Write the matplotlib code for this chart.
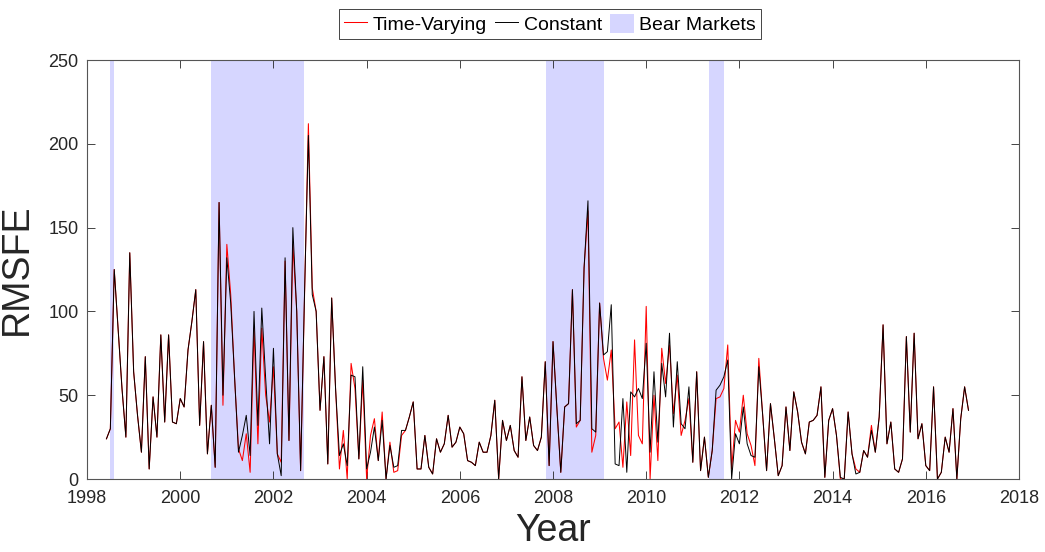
#!/usr/bin/env python3
"""
Gráfico do RMSFE mensal: modelo com parâmetros variantes no tempo vs constantes,
com períodos de bear market sombreados.
"""
import numpy as np
import matplotlib
matplotlib.use("Agg")
import matplotlib.pyplot as plt

# Primeiro mês da série (meses contados a partir de jan/1998)
START_YEAR = 1998
FIRST_MONTH = 5

# RMSFE do modelo constante (preto), um valor por mês de mai/1998 a dez/2016
CONSTANT = [
    24, 30, 125, 90, 54, 25, 135, 64, 38, 16, 73, 6, 49, 25, 86, 34, 86, 34, 33, 48,
    43, 77, 94, 113, 32, 82, 15, 44, 7, 165, 50, 132, 105, 60, 16, 26, 38, 14, 100, 32,
    102, 60, 21, 78, 15, 2, 132, 23, 150, 100, 5, 110, 205, 110, 100, 41, 73, 9, 108, 54,
    14, 21, 8, 62, 61, 12, 67, 6, 16, 31, 11, 35, 0, 20, 7, 8, 29, 29, 37, 46,
    6, 6, 26, 7, 3, 24, 16, 21, 38, 19, 22, 31, 27, 11, 10, 8, 22, 16, 16, 26,
    47, 0, 35, 23, 32, 17, 13, 61, 23, 37, 20, 17, 25, 70, 8, 82, 42, 4, 43, 45,
    113, 33, 35, 126, 166, 30, 28, 105, 74, 76, 104, 9, 8, 48, 4, 52, 49, 54, 48, 81,
    16, 64, 22, 69, 49, 87, 31, 70, 33, 30, 55, 10, 64, 5, 25, 1, 17, 53, 56, 61,
    71, 0, 27, 21, 43, 21, 14, 13, 67, 38, 5, 45, 24, 2, 8, 43, 17, 52, 40, 22,
    15, 34, 35, 38, 55, 1, 35, 42, 26, 1, 0, 40, 15, 3, 4, 17, 13, 29, 16, 37,
    92, 21, 34, 6, 4, 12, 85, 28, 87, 24, 33, 8, 5, 55, 0, 4, 25, 16, 42, 0,
    36, 55, 41,
]

# RMSFE do modelo variante no tempo (vermelho), mesmos meses
TIME_VARYING = [
    24, 30, 125, 90, 54, 25, 135, 64, 38, 16, 73, 6, 49, 25, 86, 34, 86, 34, 33, 48,
    43, 77, 94, 113, 32, 82, 15, 44, 7, 165, 44, 140, 110, 60, 18, 11, 27, 4, 90, 21,
    90, 50, 34, 67, 15, 10, 130, 23, 140, 100, 5, 110, 212, 114, 100, 41, 73, 9, 108, 54,
    6, 29, 0, 69, 54, 12, 59, 0, 26, 36, 11, 40, 0, 22, 4, 5, 26, 29, 37, 46,
    6, 6, 26, 7, 3, 24, 16, 21, 38, 19, 22, 31, 27, 11, 10, 8, 22, 16, 16, 26,
    47, 0, 35, 23, 32, 17, 13, 61, 23, 37, 20, 17, 25, 70, 8, 82, 42, 4, 43, 45,
    113, 31, 35, 126, 160, 16, 26, 105, 72, 59, 77, 30, 34, 7, 46, 14, 83, 26, 21, 103,
    0, 50, 11, 78, 57, 80, 39, 62, 26, 35, 48, 10, 64, 5, 25, 1, 17, 48, 49, 54,
    80, 6, 35, 28, 50, 27, 20, 8, 72, 38, 5, 45, 24, 2, 8, 43, 17, 52, 40, 22,
    15, 34, 35, 38, 55, 1, 35, 42, 26, 0, 0, 40, 15, 6, 4, 17, 13, 32, 16, 37,
    92, 21, 34, 6, 4, 12, 85, 28, 87, 24, 33, 8, 5, 55, 0, 4, 25, 16, 42, 0,
    36, 55, 41,
]

# Períodos de bear market (ano decimal de início e fim)
BEAR_STARTS = [1998.49, 2000.66, 2007.84, 2011.34]
BEAR_ENDS = [1998.58, 2002.66, 2009.09, 2011.67]

X_TICKS = list(range(1998, 2019, 2))
Y_TICKS = [0, 50, 100, 150, 200, 250]

AXIS_COLOR = "#262626"
BEAR_COLOR = "#d6d6ff"


def month_axis(n_points):
    """Converte índices mensais em anos decimais."""
    months = np.arange(FIRST_MONTH, FIRST_MONTH + n_points)
    return START_YEAR + months / 12.0


def plot_rmsfe():
    plt.rcParams["font.family"] = ["Liberation Sans", "DejaVu Sans"]
    fig = plt.figure(figsize=(10.45, 5.52), dpi=100)
    ax = fig.add_axes([0.0833, 0.1322, 0.8918, 0.7591])

    x = month_axis(len(CONSTANT))

    # Sombreamento dos bear markets
    for i, (s, e) in enumerate(zip(BEAR_STARTS, BEAR_ENDS)):
        ax.axvspan(s, e, color=BEAR_COLOR, lw=0, zorder=0,
                   label="Bear Markets" if i == 0 else None)

    ax.plot(x, TIME_VARYING, color="red", lw=0.75, label="Time-Varying", zorder=2)
    ax.plot(x, CONSTANT, color="black", lw=0.7, label="Constant", zorder=3)

    ax.set_xlim(1998, 2018)
    ax.set_ylim(0, 250)
    ax.set_xticks(X_TICKS)
    ax.set_yticks(Y_TICKS)
    ax.tick_params(direction="in", length=6, width=0.6, colors=AXIS_COLOR,
                   labelsize=13, top=True, right=True)
    ax.tick_params(axis="x", pad=8)
    ax.tick_params(axis="y", pad=6)
    for sp in ax.spines.values():
        sp.set_color("#555555")
        sp.set_linewidth(0.8)

    ax.set_xlabel("Year", fontsize=27, color=AXIS_COLOR, labelpad=4)
    ax.set_ylabel("RMSFE", fontsize=27, color=AXIS_COLOR, labelpad=10)

    # Legenda horizontal acima do gráfico
    handles, labels = ax.get_legend_handles_labels()
    order = [labels.index(l) for l in ["Time-Varying", "Constant", "Bear Markets"]]
    leg = fig.legend([handles[i] for i in order], [labels[i] for i in order],
                     loc="lower center", bbox_to_anchor=(0.5264, 0.9293), ncol=3,
                     fontsize=14, frameon=True, fancybox=False, framealpha=1,
                     borderpad=0.25, handlelength=1.2, handleheight=1.1,
                     handletextpad=0.3, columnspacing=0.4, borderaxespad=0)
    leg.get_frame().set_edgecolor(AXIS_COLOR)
    leg.get_frame().set_linewidth(0.6)

    fig.savefig("out.png", dpi=100)
    plt.close(fig)


def main():
    plot_rmsfe()


if __name__ == "__main__":
    main()
